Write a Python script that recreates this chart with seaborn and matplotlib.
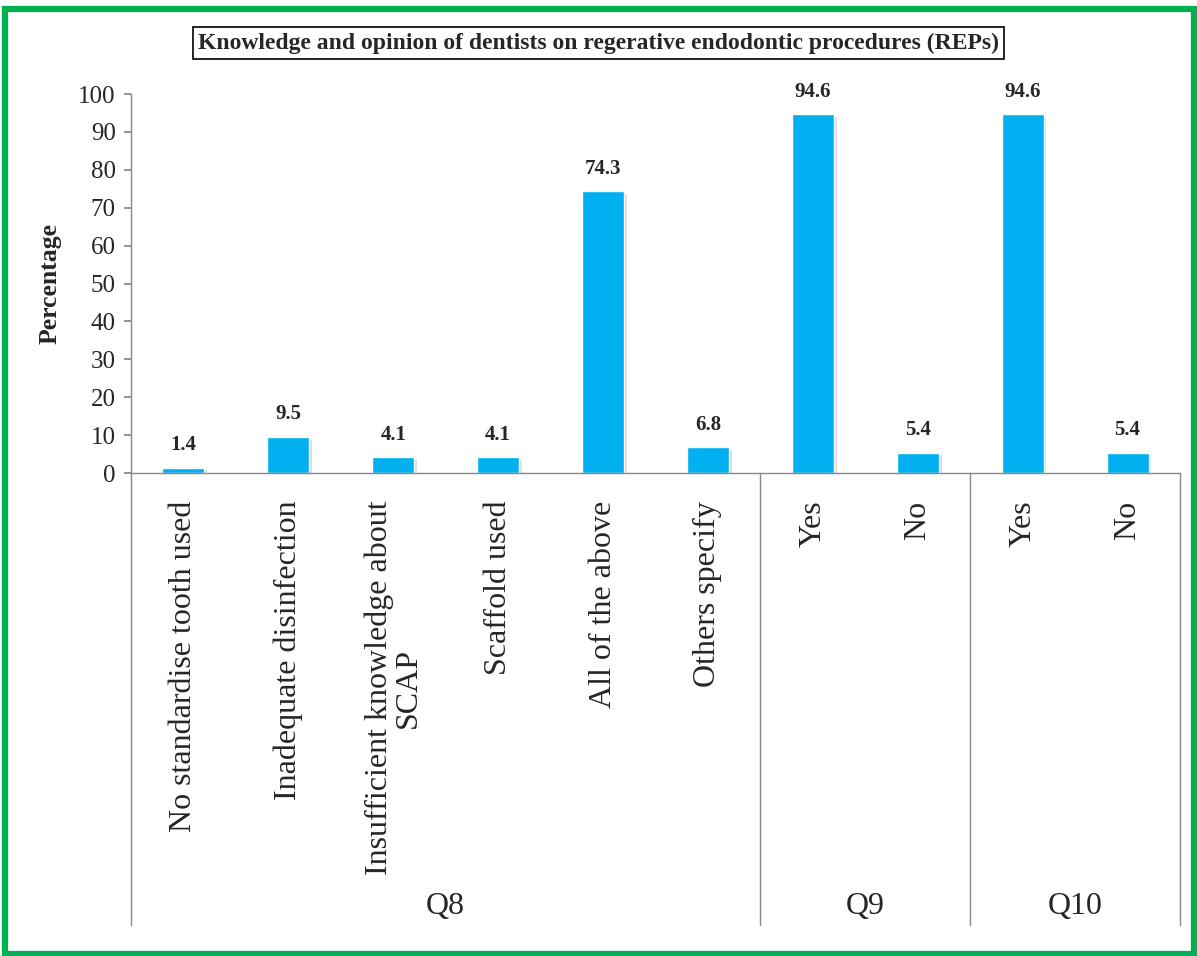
import pandas as pd
import matplotlib.pyplot as plt
import matplotlib.patheffects as pe
import matplotlib.transforms as mtransforms
from matplotlib.patches import Rectangle
import seaborn as sns

# data
labels = ['No standardise tooth used', 'Inadequate disinfection',
          'Insufficient knowledge about\nSCAP', 'Scaffold used', 'All of the above',
          'Others specify', 'Yes', 'No', 'Yes', 'No']
values = [1.4, 9.5, 4.1, 4.1, 74.3, 6.8, 94.6, 5.4, 94.6, 5.4]
groups = ['Q8', 'Q9', 'Q10']
group_sizes = [6, 2, 2]
title = 'Knowledge and opinion of dentists on regerative endodontic procedures (REPs)'

df = pd.DataFrame({'pos': range(len(values)), 'value': values})

sns.set_theme(style='white')
plt.rcParams['font.family'] = ['Liberation Serif', 'DejaVu Serif']

fig = plt.figure(figsize=(11.97, 9.56), dpi=100)
ax = fig.add_axes([131 / 1197, 1 - 473 / 956, 1049 / 1197, 379 / 956])

sns.barplot(data=df, x='pos', y='value', color='#00B0F0', width=0.4,
            saturation=1, ax=ax)
for bar in ax.patches:
    bar.set_path_effects([pe.SimplePatchShadow(offset=(2, -2), shadow_rgbFace='#999999', alpha=0.35),
                          pe.Normal()])

ax.bar_label(ax.containers[0], labels=[f'{v:.1f}' for v in values], padding=9,
             fontsize=15, fontweight='bold')

ax.set_ylim(0, 100)
ax.set_xlim(-0.5, len(values) - 0.5)
ax.set_yticks(range(0, 101, 10))
ax.tick_params(axis='y', labelsize=18, left=True, length=5, color='#888888', pad=6)
ax.set_xticks(range(len(values)))
ax.set_xticklabels(labels, rotation=90, fontsize=23, va='top', ha='center', linespacing=1.0)
ax.tick_params(axis='x', bottom=False, pad=14)
ax.set_xlabel('')
ax.set_ylabel('Percentage', fontsize=18.5, fontweight='bold', labelpad=12)

for side in ['top', 'right']:
    ax.spines[side].set_visible(False)
for side in ['left', 'bottom']:
    ax.spines[side].set_color('#888888')
    ax.spines[side].set_linewidth(1)

# group separators and labels below axis
trans = mtransforms.blended_transform_factory(ax.transData, ax.transAxes)
edges = [-0.5]
for n in group_sizes:
    edges.append(edges[-1] + n)
for e in edges:
    ax.plot([e, e], [0, -1.193], transform=trans, color='#888888', lw=1, clip_on=False)
for g, a, b in zip(groups, edges[:-1], edges[1:]):
    ax.text((a + b) / 2, -1.145, g, transform=trans, ha='center', va='center', fontsize=23)

# title box
fig.text(0.5, 1 - 43 / 956, title, ha='center', va='center', fontsize=17, fontweight='bold',
         bbox=dict(boxstyle='square,pad=0.22', facecolor='white', edgecolor='black', lw=1.2))

# green frame
fig.patches.append(Rectangle((5 / 1197, 2 / 956), 1189 / 1197, 945 / 956, transform=fig.transFigure,
                             fill=False, edgecolor='#00B050', lw=4.5))

fig.savefig('out.png', dpi=100)
